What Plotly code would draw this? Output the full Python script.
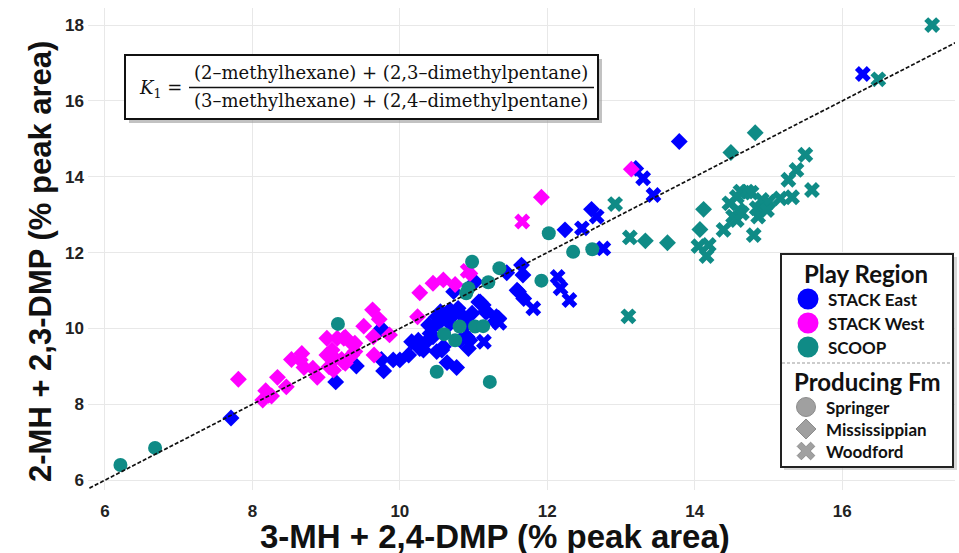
import math
import plotly.graph_objects as go

# ---------------- data ----------------
east_miss_x = [7.71, 9.13, 9.41, 9.75, 9.75, 9.78, 9.91, 10.00, 10.12, 10.16, 10.27, 10.39, 10.36, 10.45,
               10.50, 10.55, 10.64, 10.68, 10.75, 10.79, 10.86, 10.91, 10.98, 11.07, 11.13, 11.18, 11.29,
               11.31, 10.91, 10.93, 10.82, 10.59, 10.50, 10.32, 10.25, 10.64, 10.77, 10.73, 11.02, 11.45,
               11.65, 11.67, 11.59, 11.68, 11.61, 11.09, 11.16, 11.34, 12.24, 12.60, 13.20, 13.79, 10.61,
               10.52, 10.45, 10.41, 10.57, 10.68, 10.95]
east_miss_y = [7.64, 8.59, 9.01, 10.00, 9.18, 8.88, 9.17, 9.17, 9.30, 9.65, 9.47, 10.09, 9.65, 9.78,
               10.31, 10.44, 10.22, 10.49, 10.40, 10.53, 10.31, 10.13, 10.40, 10.70, 10.62, 10.44, 10.18,
               10.31, 9.78, 9.47, 9.69, 9.52, 9.39, 9.43, 9.69, 9.10, 8.97, 10.97, 11.23, 11.47,
               11.67, 11.41, 11.01, 10.79, 10.97, 10.70, 10.44, 10.27, 12.60, 13.14, 14.22, 14.93, 10.31,
               10.13, 10.04, 9.87, 9.43, 10.13, 9.69]
east_wood_x = [11.14, 11.35, 11.81, 12.14, 12.18, 12.30, 12.47, 12.67, 12.76, 13.30, 13.44, 16.28]
east_wood_y = [9.65, 10.15, 10.53, 11.36, 11.06, 10.75, 12.64, 12.95, 12.11, 13.96, 13.52, 16.71]

west_miss_x = [7.81, 8.34, 8.46, 8.18, 8.22, 8.14, 8.26, 8.53, 8.67, 8.70, 8.82, 8.88, 9.01, 9.15, 9.24,
               9.01, 9.08, 9.12, 9.04, 9.10, 9.23, 9.37, 9.35, 9.26, 9.39, 9.21, 9.65, 9.63, 9.72, 9.51,
               9.64, 9.86, 10.24, 10.27, 10.45, 10.59, 10.75, 10.95, 11.92, 13.14, 8.65, 9.26, 9.39]
west_miss_y = [8.66, 8.71, 8.46, 8.36, 8.24, 8.11, 8.22, 9.18, 9.34, 8.97, 8.95, 8.71, 9.74, 9.74, 9.74,
               9.30, 9.43, 9.21, 8.99, 8.90, 9.12, 9.56, 9.30, 9.77, 9.39, 9.18, 9.30, 10.49, 10.24, 10.06,
               9.78, 9.83, 10.31, 10.94, 11.19, 11.28, 11.16, 11.45, 13.46, 14.20, 9.17, 9.08, 9.61]
west_wood_x = [10.92, 11.66]
west_wood_y = [11.52, 12.82]

scoop_spr_x = [6.21, 6.68, 9.16, 10.98, 11.35, 11.20, 10.93, 10.90, 12.02, 12.35, 12.61, 11.92, 10.60,
               10.81, 10.75, 11.02, 11.13, 10.50, 11.22]
scoop_spr_y = [6.40, 6.85, 10.12, 11.76, 11.59, 11.22, 11.06, 10.93, 12.51, 12.02, 12.09, 11.26, 9.85,
               10.05, 9.69, 10.05, 10.06, 8.86, 8.59]
scoop_miss_x = [13.33, 13.63, 14.12, 14.07, 14.82, 14.49]
scoop_miss_y = [12.31, 12.26, 13.14, 12.61, 15.16, 14.64]
scoop_wood_x = [12.92, 13.12, 13.10, 14.05, 14.19, 14.16, 14.39, 14.80, 14.47, 14.57, 14.62, 14.71, 14.77,
                14.52, 14.59, 14.57, 14.64, 14.84, 14.86, 14.91, 14.96, 15.00, 14.98, 15.16, 15.32, 15.27,
                15.38, 15.50, 15.59, 16.49, 17.22]
scoop_wood_y = [13.28, 12.40, 10.32, 12.17, 12.20, 11.91, 12.60, 12.46, 13.30, 13.47, 13.61, 13.61, 13.58,
                12.95, 13.12, 12.86, 13.04, 13.17, 12.95, 13.39, 13.26, 13.34, 13.12, 13.43, 13.46, 13.92,
                14.18, 14.58, 13.65, 16.57, 18.00]

one_to_one = [5.5, 18.0]
x_ticks = [6, 8, 10, 12, 14, 16]
y_ticks = [6, 8, 10, 12, 14, 16, 18]

region_names = ["STACK East", "STACK West", "SCOOP"]
region_colors = ["#0000ff", "#ff00ff", "#0f8b86"]
fm_names = ["Springer", "Mississippian", "Woodford"]

# ---------------- layout helpers (pixel -> paper) ----------------
W, H = 959, 553
L, R, T, B = 88, 4, 8, 63
PW, PH = W - L - R, H - T - B


def px(x):
    return (x - L) / PW


def py(y):
    return (H - B - y) / PH


SIZES = {"circle": 14, "diamond": 13, "x": 14}

fig = go.Figure()


def add(xs, ys, color, symbol):
    fig.add_trace(go.Scatter(
        x=xs, y=ys, mode="markers", showlegend=False,
        marker=dict(color=color, symbol=symbol, size=SIZES[symbol], line=dict(width=0)),
    ))


add(east_miss_x, east_miss_y, region_colors[0], "diamond")
add(east_wood_x, east_wood_y, region_colors[0], "x")
add(west_miss_x, west_miss_y, region_colors[1], "diamond")
add(west_wood_x, west_wood_y, region_colors[1], "x")
add(scoop_spr_x, scoop_spr_y, region_colors[2], "circle")
add(scoop_miss_x, scoop_miss_y, region_colors[2], "diamond")
add(scoop_wood_x, scoop_wood_y, region_colors[2], "x")

fig.add_trace(go.Scatter(
    x=one_to_one, y=one_to_one, mode="lines", showlegend=False,
    line=dict(color="#111111", width=1.7, dash="4px,2px"),
))

shapes = []
annotations = []


def poly_path(points):
    return "M " + " L ".join(f"{px(a):.5f},{py(b):.5f}" for a, b in points) + " Z"


def glyph_circle(cx, cy, r, color, line_color=None):
    shapes.append(dict(type="circle", xref="paper", yref="paper",
                       x0=px(cx - r), x1=px(cx + r), y0=py(cy + r), y1=py(cy - r),
                       fillcolor=color, line=dict(width=1 if line_color else 0, color=line_color or color)))


def glyph_diamond(cx, cy, r, color, line_color):
    pts = [(cx, cy - r), (cx + r, cy), (cx, cy + r), (cx - r, cy)]
    shapes.append(dict(type="path", xref="paper", yref="paper", path=poly_path(pts),
                       fillcolor=color, line=dict(width=1, color=line_color)))


def glyph_x(cx, cy, a, t, color, line_color):
    plus = [(t, t), (a, t), (a, -t), (t, -t), (t, -a), (-t, -a), (-t, -t), (-a, -t), (-a, t), (-t, t),
            (-t, a), (t, a)]
    s = 1 / math.sqrt(2)
    pts = [(cx + (x - y) * s, cy + (x + y) * s) for x, y in plus]
    shapes.append(dict(type="path", xref="paper", yref="paper", path=poly_path(pts),
                       fillcolor=color, line=dict(width=1, color=line_color)))


# equation box
shapes.append(dict(type="rect", xref="paper", yref="paper", x0=px(129), x1=px(602), y0=py(123), y1=py(59),
                   fillcolor="#9a9a9a", line=dict(width=0), opacity=0.6))
shapes.append(dict(type="rect", xref="paper", yref="paper", x0=px(125), x1=px(598), y0=py(119), y1=py(55),
                   fillcolor="white", line=dict(color="#111111", width=2)))
shapes.append(dict(type="line", xref="paper", yref="paper", x0=px(189), x1=px(594), y0=py(87.5), y1=py(87.5),
                   line=dict(color="#111111", width=1.3)))
eq_font = dict(family="DejaVu Serif", size=18, color="#111111")
annotations.append(dict(xref="paper", yref="paper", x=px(160), y=py(89), text="<i>K</i><sub>1</sub> =",
                        showarrow=False, font=eq_font, xanchor="center", yanchor="middle"))
annotations.append(dict(xref="paper", yref="paper", x=px(391), y=py(73),
                        text="(2–methylhexane) + (2,3–dimethylpentane)",
                        showarrow=False, font=eq_font, xanchor="center", yanchor="middle"))
annotations.append(dict(xref="paper", yref="paper", x=px(391), y=py(101),
                        text="(3–methylhexane) + (2,4–dimethylpentane)",
                        showarrow=False, font=eq_font, xanchor="center", yanchor="middle"))

# legend box
shapes.append(dict(type="rect", xref="paper", yref="paper", x0=px(784), x1=px(957), y0=py(470), y1=py(257),
                   fillcolor="#b0b0b0", line=dict(width=0), opacity=0.5))
shapes.append(dict(type="rect", xref="paper", yref="paper", x0=px(781), x1=px(953), y0=py(467), y1=py(254),
                   fillcolor="white", line=dict(color="#222222", width=2)))
shapes.append(dict(type="line", xref="paper", yref="paper", x0=px(782), x1=px(952), y0=py(363), y1=py(363),
                   line=dict(color="#999999", width=1, dash="3px,2px")))
leg_y = [299, 323, 347]
for col, yy in zip(region_colors, leg_y):
    glyph_circle(808, yy, 10.5, col)
fm_y = [407, 429, 451]
glyph_circle(806, fm_y[0], 9.5, "#a0a0a0", "#8c8c8c")
glyph_diamond(806, fm_y[1], 10, "#a0a0a0", "#8c8c8c")
glyph_x(806, fm_y[2], 9.5, 3.0, "#a0a0a0", "#8c8c8c")

leg_title_font = dict(family="Lato", size=24, color="#111111", weight="bold")
leg_font = dict(family="Lato", size=17, color="#111111", weight="bold")
annotations.append(dict(xref="paper", yref="paper", x=px(866), y=py(273), text="Play Region",
                        showarrow=False, font=leg_title_font, xanchor="center", yanchor="middle"))
for name, yy in zip(region_names, leg_y):
    annotations.append(dict(xref="paper", yref="paper", x=px(826), y=py(yy), text=name,
                            showarrow=False, font=leg_font, xanchor="left", yanchor="middle"))
annotations.append(dict(xref="paper", yref="paper", x=px(867), y=py(381), text="Producing Fm",
                        showarrow=False, font=leg_title_font, xanchor="center", yanchor="middle"))
for name, yy in zip(fm_names, fm_y):
    annotations.append(dict(xref="paper", yref="paper", x=px(824), y=py(yy), text=name,
                            showarrow=False, font=leg_font, xanchor="left", yanchor="middle"))

# axis titles
annotations.append(dict(xref="paper", yref="paper", x=px(495), y=py(536),
                        text="3-MH + 2,4-DMP (% peak area)", showarrow=False,
                        font=dict(family="Liberation Sans Narrow, Liberation Sans", size=33, color="#111111",
                                  weight="bold"),
                        xanchor="center", yanchor="middle"))
annotations.append(dict(xref="paper", yref="paper", x=px(40), y=py(262), textangle=-90,
                        text="2-MH + 2,3-DMP (% peak area)", showarrow=False,
                        font=dict(family="Liberation Sans", size=31, color="#111111", weight="bold"),
                        xanchor="center", yanchor="middle"))

tick_font = dict(family="Liberation Sans", size=17, color="#222222", weight="bold")
fig.update_layout(
    width=W, height=H,
    margin=dict(l=L, r=R, t=T, b=B),
    paper_bgcolor="white", plot_bgcolor="white",
    xaxis=dict(range=[5.77, 17.53], tickvals=x_ticks, showgrid=True, gridcolor="#e8e8e8", gridwidth=1,
               zeroline=False, showline=False, ticks="", tickfont=tick_font, ticklabelstandoff=9),
    yaxis=dict(range=[5.74, 18.45], tickvals=y_ticks, showgrid=True, gridcolor="#e8e8e8", gridwidth=1,
               zeroline=False, showline=False, ticks="", tickfont=tick_font, ticklabelstandoff=3),
    shapes=shapes,
    annotations=annotations,
    showlegend=False,
)

fig.write_html("out.html", config={"displayModeBar": False},
               post_script="document.body.style.margin='0';document.body.style.overflow='hidden';")
